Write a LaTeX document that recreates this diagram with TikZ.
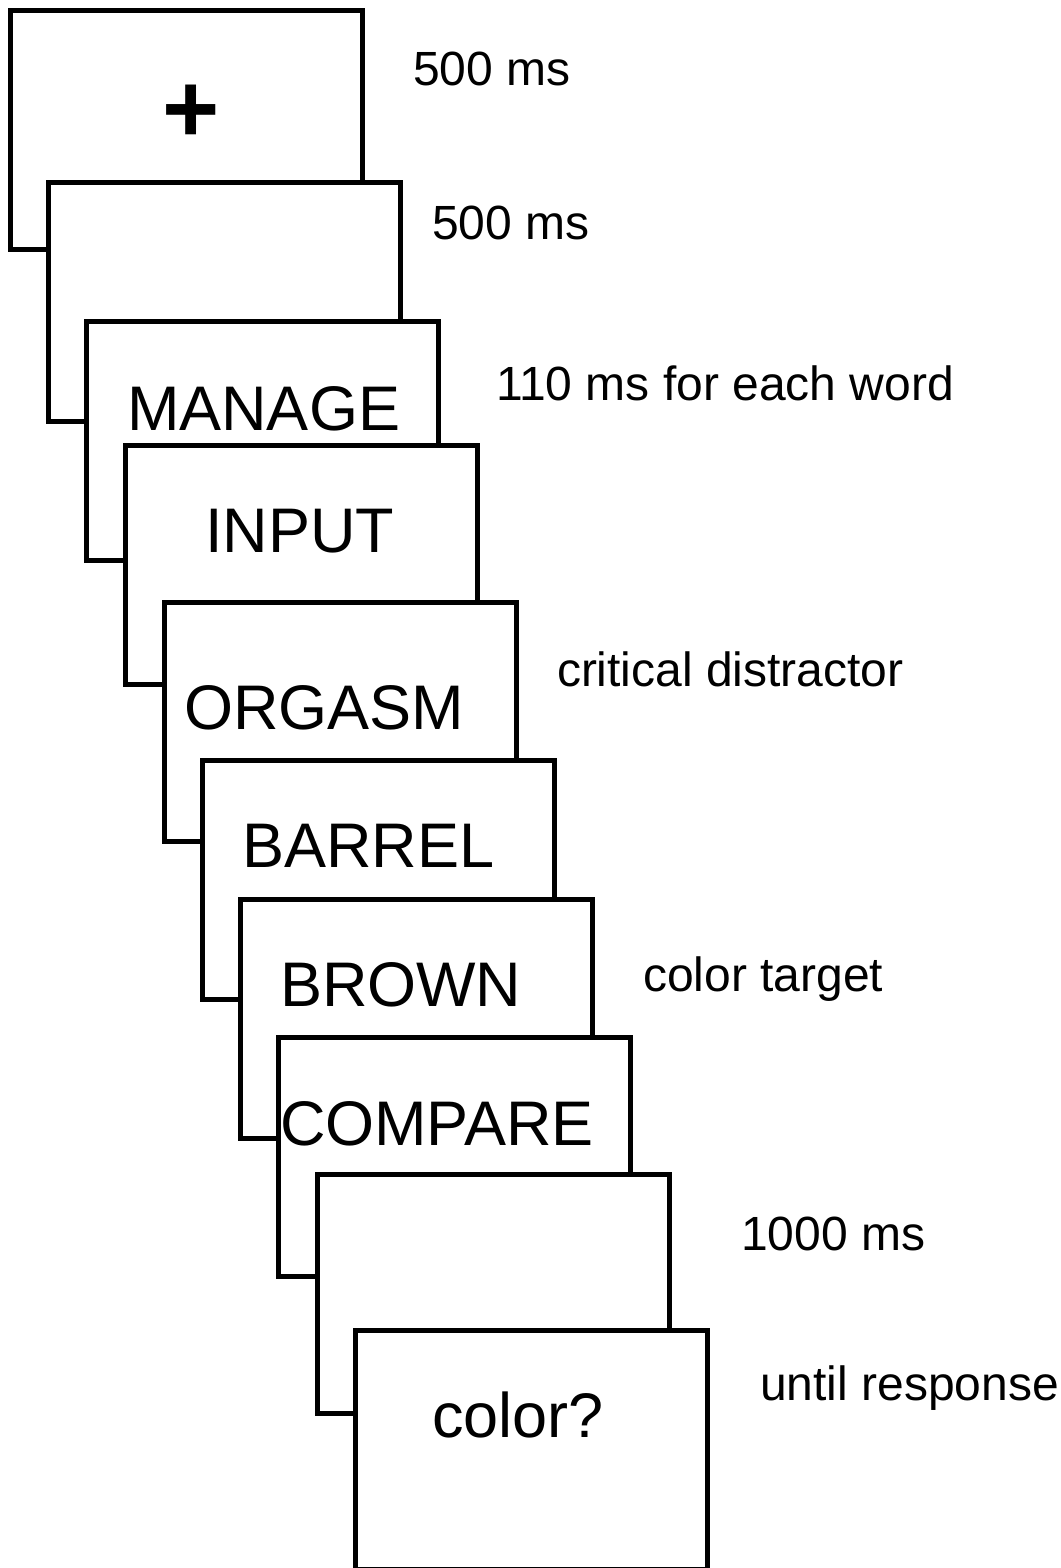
\documentclass[tikz,border=0pt]{standalone}
\usepackage{fontspec}
\setmainfont{Liberation Sans}
\begin{document}
\begin{tikzpicture}[x=0.5pt,y=-0.5pt,
  screen/.style={draw=black, fill=white, line width=2.5pt, rectangle,
    anchor=north west, outer sep=0pt, inner sep=0pt,
    minimum width=176pt, minimum height=119.25pt},
  word/.style={anchor=base west, inner sep=0pt, outer sep=0pt,
    font=\fontsize{31.5}{36}\selectfont},
  timing/.style={anchor=base west, inner sep=0pt, outer sep=0pt,
    font=\fontsize{24}{28}\selectfont}]
\useasboundingbox (0,0) rectangle (1060,1568);

% stack of screens, each later one drawn over the previous
\node[screen] (s1)  at (10.5,10.5)   {};
\node[screen] (s2)  at (48,182.5)    {};
\node[screen] (s3)  at (86.5,321.5)  {};
\node[screen] (s4)  at (125.5,445.5) {};
\node[screen] (s5)  at (164,602.5)   {};
\node[screen] (s6)  at (202.5,760.5) {};
\node[screen] (s7)  at (240.5,899.5) {};
\node[screen] (s8)  at (278.5,1037.5) {};
\node[screen] (s9)  at (317.5,1174.5) {};
\node[screen] (s10) at (355.5,1330.5) {};

% screen contents
\node[anchor=base, inner sep=0pt, font=\bfseries\fontsize{49}{56}\selectfont] (fix) at (191.5,142) {+};
\node[word] (w1) at (127,430)  {MANAGE};
\node[word] (w2) at (205,552)  {INPUT};
\node[word] (w3) at (184,729)  {ORGASM};
\node[word] (w4) at (242,867)  {BARREL};
\node[word] (w5) at (280,1006) {BROWN};
\node[word] (w6) at (280,1145) {COMPARE};
\node[word] (w7) at (432,1437) {color?};

% timing annotations
\node[timing] (t1) at (413,86)   {500 ms};
\node[timing] (t2) at (432,239)  {500 ms};
\node[timing] (t3) at (496,400)  {110 ms for each word};
\node[timing] (t4) at (557,686)  {critical distractor};
\node[timing] (t5) at (643,991)  {color target};
\node[timing] (t6) at (741,1250) {1000 ms};
\node[timing] (t7) at (760,1400) {until response};
\end{tikzpicture}
\end{document}
